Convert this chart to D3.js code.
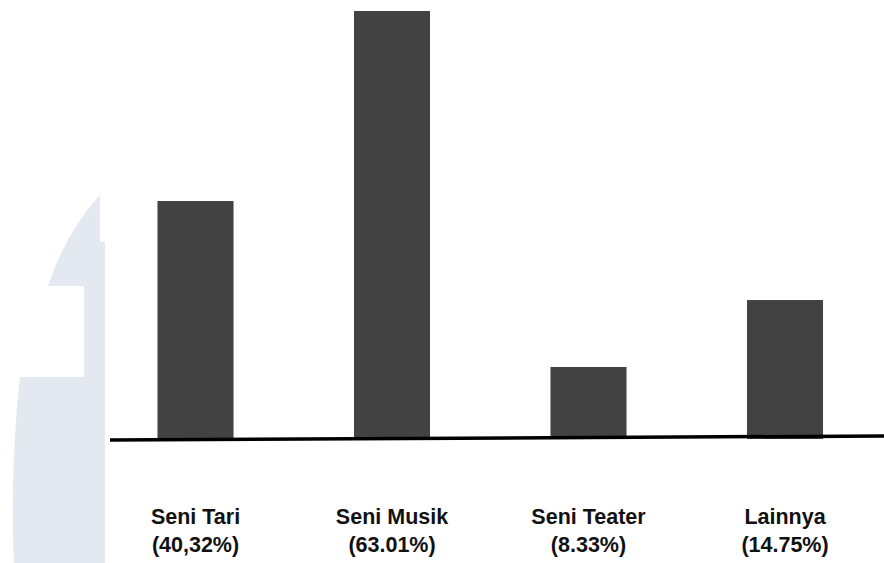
<!DOCTYPE html>
<html>
<head>
<meta charset="utf-8">
<script src="https://cdn.jsdelivr.net/npm/d3@7"></script>
<style>
  html, body { margin: 0; padding: 0; background: #ffffff; }
  svg { display: block; }
</style>
</head>
<body>
<svg id="chart" width="884" height="563"></svg>
<script>
// Data (bar heights, on the scale of the tallest bar = 63.01)
const categories = ["Seni Tari", "Seni Musik", "Seni Teater", "Lainnya"];
const percentLabels = ["(40,32%)", "(63.01%)", "(8.33%)", "(14.75%)"];
const values = [34.97, 63.01, 10.48, 20.36];

const svg = d3.select("#chart");

// Watermark shape in the background (light blue-gray)
const wm = d3.path();
wm.moveTo(100, 195);
wm.quadraticCurveTo(66, 232, 48, 286);
wm.lineTo(84, 286);
wm.lineTo(84, 377);
wm.lineTo(20, 377);
wm.bezierCurveTo(14, 430, 11, 500, 14, 563);
wm.lineTo(105, 563);
wm.lineTo(105, 242);
wm.lineTo(100, 242);
wm.closePath();
svg.append("path").attr("d", wm.toString()).attr("fill", "#e4e8f0");

// Scales
const x = d3.scaleBand()
  .domain(categories)
  .range([97.25, 883.25])
  .paddingInner(0.613)
  .paddingOuter(0.3065);

const y = d3.scaleLinear()
  .domain([0, 63.01])
  .range([438, 11]);

// Bars
svg.append("g").selectAll("rect")
  .data(values)
  .join("rect")
  .attr("x", (d, i) => x(categories[i]))
  .attr("y", d => y(d))
  .attr("width", x.bandwidth())
  .attr("height", d => y(0) - y(d) + 1)
  .attr("fill", "#424242");

// Baseline (slightly tilted, as in the reference)
svg.append("line")
  .attr("x1", 110).attr("y1", 440)
  .attr("x2", 884).attr("y2", 436)
  .attr("stroke", "#000")
  .attr("stroke-width", 3.5);

// Category labels (two lines)
const lab = svg.append("g")
  .attr("font-family", "'Liberation Sans', Arial, Helvetica, sans-serif")
  .attr("font-weight", "bold")
  .attr("font-size", 21.5)
  .attr("fill", "#111")
  .attr("text-anchor", "middle");

categories.forEach((c, i) => {
  const cx = x(c) + x.bandwidth() / 2;
  const t = lab.append("text").attr("x", cx);
  t.append("tspan").attr("x", cx).attr("y", 524).text(c);
  t.append("tspan").attr("x", cx).attr("y", 552).text(percentLabels[i]);
});
</script>
</body>
</html>
